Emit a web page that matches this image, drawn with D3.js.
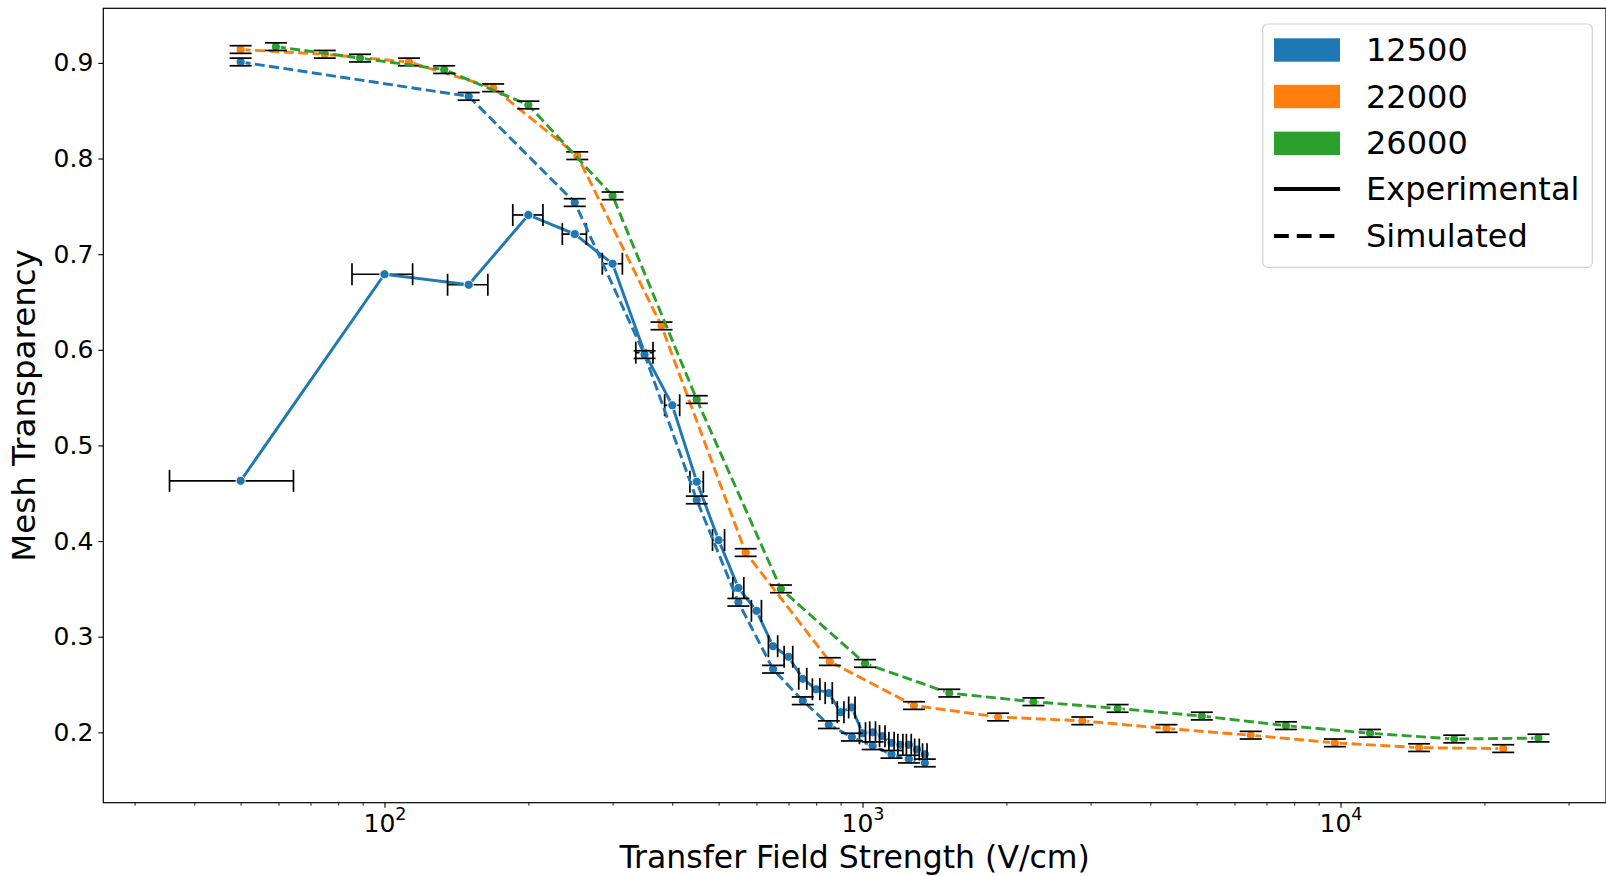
<!DOCTYPE html>
<html>
<head>
<meta charset="utf-8">
<script src="https://cdn.jsdelivr.net/npm/d3@7.9.0/dist/d3.min.js"></script>
<style>
  body { margin: 0; background: #fff; }
  svg { display: block; font-family: "DejaVu Sans", sans-serif; }
</style>
</head>
<body>
<svg id="chart" width="1606" height="876"></svg>
<script>
// experimental, gain 12500
const expX = [50, 100, 150, 200, 250, 300, 350, 400, 450, 500, 550, 600, 650, 700, 750,
              800, 850, 900, 950, 1000, 1050, 1100, 1150, 1200, 1250, 1300, 1350];
const expY = [0.463, 0.679, 0.668, 0.741, 0.721, 0.690, 0.597, 0.542, 0.462, 0.401, 0.351,
              0.327, 0.290, 0.279, 0.256, 0.245, 0.241, 0.221, 0.226, 0.199, 0.200, 0.196,
              0.189, 0.187, 0.187, 0.182, 0.177];
const expXErr = 14.5;

// simulated
const simBlueX = [50, 150, 250, 350, 450, 550, 650, 750, 850, 950, 1050, 1150, 1250, 1350];
const simBlueY = [0.901, 0.865, 0.754, 0.595, 0.443, 0.336, 0.266, 0.233, 0.208, 0.195,
                  0.186, 0.177, 0.172, 0.168];
const simOrangeX = [50, 75, 112.5, 168.8, 253.1, 379.7, 569.5, 854.3, 1281, 1922, 2883,
                    4325, 6487, 9731, 14600, 21900];
const simOrangeY = [0.914, 0.909, 0.901, 0.874, 0.803, 0.625, 0.388, 0.274, 0.228, 0.216,
                    0.212, 0.204, 0.197, 0.189, 0.184, 0.183];
const simGreenX = [59.26, 88.89, 133.3, 200, 300, 450, 675, 1012, 1519, 2278, 3417, 5126,
                   7689, 11530, 17300, 25950];
const simGreenY = [0.917, 0.905, 0.893, 0.856, 0.761, 0.548, 0.350, 0.272, 0.241, 0.232,
                   0.225, 0.217, 0.207, 0.199, 0.193, 0.194];
const simYErr = 0.004;

const gainLabels = ["12500", "22000", "26000"];
const gainColors = ["#1f77b4", "#ff7f0e", "#2ca02c"];
const styleLabels = ["Experimental", "Simulated"];

const yTicks = [0.2, 0.3, 0.4, 0.5, 0.6, 0.7, 0.8, 0.9];
const xMajor = [100, 1000, 10000];
const xMajorExp = ["2", "3", "4"];
const xMinor = [30, 40, 50, 60, 70, 80, 90, 200, 300, 400, 500, 600, 700, 800, 900,
                2000, 3000, 4000, 5000, 6000, 7000, 8000, 9000, 20000, 30000];

// layout
const plot = {left: 103.3, right: 1606, top: 8.3, bottom: 802.7};
const svg = d3.select("#chart");

const x = d3.scaleLog()
    .domain([Math.pow(10, 1.4117), Math.pow(10, 4.5554)])
    .range([plot.left, plot.right]);
const y = d3.scaleLinear()
    .domain([0.1264, 0.9571])
    .range([plot.bottom, plot.top]);

const series = [
    {x: expX, y: expY, color: gainColors[0], dashed: false, xerr: expXErr},
    {x: simBlueX, y: simBlueY, color: gainColors[0], dashed: true, yerr: simYErr},
    {x: simOrangeX, y: simOrangeY, color: gainColors[1], dashed: true, yerr: simYErr},
    {x: simGreenX, y: simGreenY, color: gainColors[2], dashed: true, yerr: simYErr}
];
const cap = 11;
const dash = "10,4.4";

// error bar stems go under everything
const bars = svg.append("g")
    .attr("stroke", "#000")
    .attr("stroke-width", 1.7);
series.forEach(s => {
    s.x.forEach((xv, i) => {
        if (s.xerr) {
            bars.append("line")
                .attr("x1", x(xv - s.xerr)).attr("x2", x(xv + s.xerr))
                .attr("y1", y(s.y[i])).attr("y2", y(s.y[i]));
        }
        if (s.yerr) {
            bars.append("line")
                .attr("x1", x(xv)).attr("x2", x(xv))
                .attr("y1", y(s.y[i] - s.yerr)).attr("y2", y(s.y[i] + s.yerr));
        }
    });
});

const line = d3.line()
    .x(d => x(d[0]))
    .y(d => y(d[1]));

series.forEach(s => {
    const pts = s.x.map((xv, i) => [xv, s.y[i]]);
    svg.append("path")
        .datum(pts)
        .attr("fill", "none")
        .attr("stroke", s.color)
        .attr("stroke-width", 2.9)
        .attr("stroke-dasharray", s.dashed ? dash : null)
        .attr("d", line);

    svg.append("g")
        .selectAll("circle")
        .data(pts)
        .join("circle")
        .attr("cx", d => x(d[0]))
        .attr("cy", d => y(d[1]))
        .attr("r", 4.6)
        .attr("fill", s.color)
        .attr("stroke", "#fff")
        .attr("stroke-width", 1);

    // caps
    const caps = svg.append("g")
        .attr("stroke", "#000")
        .attr("stroke-width", 1.7);
    pts.forEach(d => {
        if (s.xerr) {
            [d[0] - s.xerr, d[0] + s.xerr].forEach(xe => {
                caps.append("line")
                    .attr("x1", x(xe)).attr("x2", x(xe))
                    .attr("y1", y(d[1]) - cap).attr("y2", y(d[1]) + cap);
            });
        }
        if (s.yerr) {
            [d[1] - s.yerr, d[1] + s.yerr].forEach(ye => {
                caps.append("line")
                    .attr("x1", x(d[0]) - cap).attr("x2", x(d[0]) + cap)
                    .attr("y1", y(ye)).attr("y2", y(ye));
            });
        }
    });
});

// axes
const yAxis = svg.append("g")
    .attr("transform", `translate(${plot.left},0)`)
    .call(d3.axisLeft(y).tickValues(yTicks).tickSize(5).tickPadding(5)
        .tickFormat(d3.format(".1f")));
yAxis.select(".domain").remove();
yAxis.selectAll("text")
    .attr("font-size", 25)
    .attr("font-family", "DejaVu Sans")
    .attr("fill", "#000");
yAxis.selectAll("line").attr("stroke-width", 1.1);

const xMinorAxis = svg.append("g")
    .attr("transform", `translate(0,${plot.bottom})`)
    .call(d3.axisBottom(x).tickValues(xMinor).tickSize(3).tickFormat(""));
xMinorAxis.select(".domain").remove();
xMinorAxis.selectAll("line").attr("stroke-width", 0.9);

const xAxis = svg.append("g")
    .attr("transform", `translate(0,${plot.bottom})`)
    .call(d3.axisBottom(x).tickValues(xMajor).tickSize(5).tickFormat(""));
xAxis.select(".domain").remove();
xAxis.selectAll("line").attr("stroke-width", 1.1);
xAxis.selectAll(".tick").each(function(d, i) {
    const t = d3.select(this).append("text")
        .attr("y", 29.8)
        .attr("text-anchor", "middle")
        .attr("fill", "#000")
        .attr("font-size", 25)
        .attr("font-family", "DejaVu Sans");
    t.append("tspan").text("10");
    t.append("tspan").attr("dy", -12).attr("font-size", 17.5).text(xMajorExp[i]);
});

// frame
svg.append("rect")
    .attr("x", plot.left)
    .attr("y", plot.top)
    .attr("width", plot.right - plot.left)
    .attr("height", plot.bottom - plot.top)
    .attr("fill", "none")
    .attr("stroke", "#000")
    .attr("stroke-width", 1.2);

// labels
svg.append("text")
    .attr("x", (plot.left + plot.right) / 2)
    .attr("y", 868)
    .attr("text-anchor", "middle")
    .attr("font-size", 31.5)
    .text("Transfer Field Strength (V/cm)");

svg.append("text")
    .attr("transform", `translate(35,${(plot.top + plot.bottom) / 2}) rotate(-90)`)
    .attr("text-anchor", "middle")
    .attr("font-size", 32.5)
    .text("Mesh Transparency");

// legend
const legend = svg.append("g");
legend.append("rect")
    .attr("x", 1262.7).attr("y", 24)
    .attr("width", 329.6).attr("height", 243.3)
    .attr("rx", 5)
    .attr("fill", "#fff").attr("fill-opacity", 0.8)
    .attr("stroke", "#d0d0d0").attr("stroke-width", 1.2);

const rowY = [50, 96.5, 143.3, 189, 236];
gainLabels.forEach((lab, i) => {
    legend.append("rect")
        .attr("x", 1274).attr("y", rowY[i] - 11.7)
        .attr("width", 66).attr("height", 23.4)
        .attr("fill", gainColors[i]);
    legend.append("text")
        .attr("x", 1366).attr("y", rowY[i] + 11)
        .attr("font-size", 32)
        .text(lab);
});
styleLabels.forEach((lab, j) => {
    const ry = rowY[3 + j];
    legend.append("line")
        .attr("x1", 1274).attr("x2", 1340)
        .attr("y1", ry).attr("y2", ry)
        .attr("stroke", "#000")
        .attr("stroke-width", 4)
        .attr("stroke-dasharray", j === 1 ? "14.8,8" : null);
    legend.append("text")
        .attr("x", 1366).attr("y", ry + 11)
        .attr("font-size", 32)
        .text(lab);
});
</script>
</body>
</html>
